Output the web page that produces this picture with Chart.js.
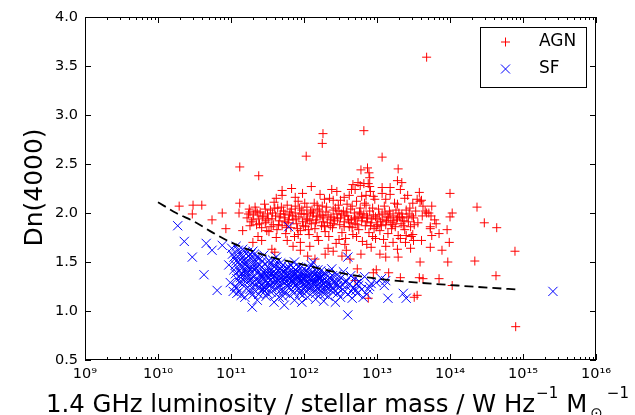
<!DOCTYPE html>
<html>
<head>
<meta charset="utf-8">
<script src="https://cdn.jsdelivr.net/npm/chart.js@4/dist/chart.umd.min.js"></script>
<style>
  html, body { margin: 0; padding: 0; background: #fff; }
  canvas { display: block; }
</style>
</head>
<body>
<canvas id="dnplot" width="635" height="415"></canvas>
<script>
// log10(L1.4GHz / M*) and Dn(4000) per galaxy
var agnPoints = [
  [13.68,3.59],[12.26,2.81],[12.25,2.71],[12.03,2.58],[11.12,2.47],[11.38,2.38],[12.82,2.84],[13.07,2.57],
  [13.29,2.45],[13.34,2.31],[12.78,2.44],[12.87,2.46],[12.89,2.41],[12.67,2.29],[12.74,2.31],[12.77,2.28],
  [12.90,2.36],[12.90,2.27],[13.07,2.26],[13.18,2.26],[14.00,2.20],[14.37,2.06],[14.47,1.90],[14.64,1.85],
  [14.89,1.61],[14.34,1.51],[14.63,1.36],[14.90,0.84],[13.85,1.33],[14.03,1.26],[13.63,1.33],[13.97,1.50],
  [13.89,1.62],[13.73,1.65],[13.99,1.70],[13.85,1.79],[13.59,1.50],[13.68,2.00],[13.75,2.07],[14.03,2.00],
  [14.00,1.96],[13.79,1.93],[13.96,1.83],[13.73,1.86],
  [10.29,2.07],[10.48,2.08],[10.60,2.08],[10.47,1.99],[10.74,1.93],[10.93,1.84],[10.88,2.00],[11.12,2.10],
  [11.11,2.00],[11.26,2.01],[11.70,2.23],[11.70,2.18],[11.30,1.70],[11.37,1.76],[11.42,1.72],[11.56,1.63],
  [11.60,1.60],[11.95,1.62],[11.95,1.70],[11.77,1.72],[11.49,1.82],[11.26,1.87],[11.16,1.82],
  [13.58,2.21],[13.61,2.13],[13.55,2.14],[13.59,2.12],[13.63,2.07],[13.66,2.02],[13.71,2.00],[13.74,1.97],
  [13.81,1.89],[13.73,1.84],[13.75,1.77],[13.61,1.72],[13.50,1.72],[13.40,1.77],[13.47,1.76],[13.46,1.64],
  [13.55,1.16],[13.51,1.14],[13.58,1.34],[13.32,1.34],[13.29,1.55],[13.12,1.55],[13.04,1.58],[13.16,1.39],
  [12.99,1.42],[12.95,1.39],[12.88,1.13],[13.28,1.63],[13.32,1.74],[13.49,1.78],[13.51,1.88],[13.49,2.10],
  [13.38,2.15],[13.28,2.09],[13.32,2.24],[13.18,2.19],[13.07,2.20],[12.95,2.17],[12.91,2.22],[12.79,2.17],
  [12.70,2.24],[12.88,2.30],[13.28,2.33],[12.82,2.30],[12.50,2.13],[12.40,2.13],[12.01,2.10],[12.18,2.08],
  [12.70,1.31],[12.73,1.43],[12.63,1.53],[12.52,1.56],[12.40,1.61],[12.29,1.58],[12.15,1.53],[12.05,1.56],
  [11.22,1.95],[11.25,2.04],[11.28,1.91],[11.31,1.98],[11.33,2.06],[11.35,1.88],[11.38,1.94],[11.40,2.01],
  [11.42,1.85],[11.44,1.97],[11.46,2.09],[11.48,1.92],[11.50,1.99],[11.52,1.81],[11.54,2.03],[11.56,1.94],
  [11.58,1.88],[11.59,2.11],[11.61,1.97],[11.63,1.83],[11.64,2.05],[11.66,1.92],[11.68,1.99],[11.70,1.87],
  [11.72,2.02],[11.73,1.95],[11.75,1.79],[11.77,2.08],[11.78,1.90],[11.80,1.98],[11.82,1.85],[11.83,2.04],
  [11.85,1.93],[11.87,1.76],[11.88,2.00],[11.90,1.89],[11.92,2.12],[11.93,1.96],[11.95,1.82],[11.97,2.03],
  [11.98,1.91],[12.00,1.99],[12.02,1.86],[12.04,2.06],[12.05,1.94],[12.07,1.78],[12.09,2.01],[12.10,1.89],
  [12.12,1.97],[12.14,2.10],[12.15,1.84],[12.17,1.93],[12.19,2.04],[12.20,1.72],[12.22,1.98],[12.24,1.87],
  [12.25,2.07],[12.27,1.95],[12.29,1.81],[12.30,2.01],[12.32,1.90],[12.34,1.76],[12.35,2.15],[12.37,1.96],
  [12.39,1.85],[12.40,2.03],[12.42,1.92],[12.44,1.69],[12.45,1.99],[12.47,2.08],[12.49,1.88],[12.50,1.95],
  [12.52,1.80],[12.54,2.02],[12.55,1.91],[12.57,1.74],[12.59,2.09],[12.60,1.97],[12.62,1.86],[12.64,2.04],
  [12.65,1.93],[12.67,1.78],[12.69,2.00],[12.70,1.89],[12.72,2.12],[12.74,1.96],[12.75,1.83],[12.77,2.05],
  [12.79,1.92],[12.80,1.71],[12.82,1.99],[12.84,1.87],[12.85,2.08],[12.87,1.95],[12.89,1.80],[12.90,2.02],
  [12.92,1.90],[12.94,1.76],[12.95,1.98],[12.97,2.14],[12.99,1.86],[13.00,1.94],[13.02,2.04],[13.04,1.82],
  [13.05,1.91],[13.07,1.99],[13.09,1.73],[13.10,2.07],[13.12,1.88],[13.14,1.96],[13.15,1.79],[13.17,2.02],
  [13.19,1.90],[13.20,1.84],[13.22,1.97],[13.24,2.10],[13.25,1.86],[13.27,1.93],[13.29,1.77],[13.30,2.00],
  [13.33,1.89],[13.35,1.95],[13.38,1.83],[13.40,2.03],[13.43,1.91],[13.46,1.86],[13.48,1.97],
  [12.08,1.66],[12.33,1.64],[12.58,1.62],[12.78,1.58],[12.92,1.65],[11.85,1.66],[12.22,2.19],[12.45,2.22],
  [12.62,2.18],[11.98,2.20],[11.83,2.25],[12.10,2.27],
  [11.36,2.00],[11.47,1.90],[11.57,2.00],[11.67,1.96],[11.74,1.91],[11.81,2.01],[11.89,1.94],[11.96,1.99],
  [12.03,1.93],[12.11,2.03],[12.18,1.96],[12.26,1.91],[12.33,1.98],[12.41,1.95],[12.48,2.02],[12.56,1.97],
  [12.63,1.90],[12.71,1.94],[12.78,1.99],[12.86,1.91],[12.93,1.94],[13.01,1.88],[13.08,1.93],[13.16,1.95],
  [13.23,1.92],[13.31,1.96],[13.37,1.92],[13.44,1.99],[12.36,1.87],[12.66,1.85],[12.96,1.84],[12.06,1.83],
  [11.76,1.85],
  [11.24,1.99],[11.30,1.93],[11.34,2.02],[11.39,1.89],[11.43,1.96],[11.47,2.04],[11.51,1.94],[11.55,1.86],
  [11.60,2.05],[11.65,1.88],[11.69,2.06],[11.74,1.99],[11.79,1.93],[11.84,1.97],[11.88,2.07],[11.91,1.84],
  [11.94,2.05],[11.99,1.87],[12.04,1.99],[12.08,1.92],[12.13,2.00],[12.16,1.90],[12.21,2.02],[12.25,1.97],
  [12.28,1.86],[12.31,2.06],[12.36,1.93],[12.40,1.89],[12.43,2.05],[12.46,1.94],[12.51,1.99],[12.55,1.86],
  [12.58,2.01],[12.61,1.93],[12.66,2.07],[12.69,1.95],[12.73,1.88],[12.76,2.01],[12.80,1.95],[12.83,2.10],
  [12.86,1.97],[12.91,1.87],[12.94,2.05],[12.98,1.96],[13.03,1.98],[13.06,1.87],[13.11,2.01],[13.13,1.92],
  [13.18,1.99],[13.21,1.88],[13.26,2.03],[13.28,1.95],[13.34,1.99],[13.36,1.87],[13.41,1.96],[13.45,2.05],
  [13.50,1.95],[13.53,2.02],[13.56,1.90],[13.62,1.97],
  [11.62,1.75],[11.92,1.78],[12.18,1.76],[12.48,1.73],[12.72,1.76],[12.98,1.74],[13.22,1.70],[13.39,1.70],
  [12.56,1.68],[12.86,1.68],[13.12,1.66],
  [11.62,2.15],[11.88,2.16],[12.28,2.14],[12.55,2.16],[12.85,2.18],[13.12,2.14],[13.42,2.18],[12.65,2.24],
  [12.38,2.24]
];

var sfPoints = [
  [10.27,1.87],[10.36,1.71],[10.47,1.55],[10.63,1.37],[10.81,1.21],[10.66,1.69],[10.74,1.62],[10.88,1.67],
  [10.97,1.47],[10.99,1.29],[11.08,1.18],[11.29,1.04],[11.79,1.86],[15.41,1.20],[12.60,1.55],[12.60,0.96],
  [13.15,1.13],[13.40,1.13],[13.36,1.18],[13.12,1.31],[12.92,1.28],[12.81,1.14],[12.71,1.21],[12.75,1.26],
  [12.88,1.22],[13.10,1.26],[13.06,1.33],[12.99,1.29],
  [11.02,1.58],[11.04,1.42],[11.05,1.25],[11.07,1.51],[11.08,1.33],[11.10,1.62],[11.11,1.20],[11.13,1.46],
  [11.14,1.37],[11.16,1.55],[11.17,1.28],[11.19,1.14],[11.20,1.49],[11.22,1.40],[11.23,1.60],[11.25,1.31],
  [11.26,1.22],[11.28,1.53],[11.29,1.44],[11.30,1.17],[11.31,1.36],[11.32,1.58],[11.33,1.26],[11.35,1.47],
  [11.36,1.11],[11.37,1.39],[11.38,1.54],[11.40,1.30],[11.41,1.21],[11.42,1.45],[11.43,1.35],[11.45,1.57],
  [11.46,1.24],[11.47,1.41],[11.48,1.15],[11.50,1.50],[11.51,1.33],[11.52,1.27],[11.53,1.43],[11.55,1.19],
  [11.56,1.38],[11.57,1.52],[11.58,1.29],[11.59,1.09],[11.60,1.36],[11.61,1.46],[11.62,1.23],[11.64,1.32],
  [11.65,1.41],[11.66,1.14],[11.67,1.27],[11.68,1.49],[11.70,1.35],[11.71,1.20],[11.72,1.40],[11.73,1.06],
  [11.75,1.30],[11.76,1.44],[11.77,1.25],[11.78,1.37],[11.80,1.16],[11.81,1.33],[11.82,1.47],[11.83,1.22],
  [11.85,1.39],[11.86,1.29],[11.87,1.11],[11.89,1.42],[11.90,1.34],[11.91,1.25],[11.92,1.45],[11.94,1.18],
  [11.95,1.31],[11.96,1.38],[11.97,1.09],[11.99,1.27],[12.00,1.43],[12.01,1.21],[12.02,1.35],[12.04,1.30],
  [12.05,1.14],[12.06,1.40],[12.08,1.24],[12.09,1.33],[12.10,1.47],[12.12,1.19],[12.13,1.28],[12.14,1.37],
  [12.16,1.12],[12.17,1.32],[12.18,1.23],[12.19,1.42],[12.21,1.29],[12.22,1.17],[12.24,1.36],[12.25,1.26],
  [12.27,1.10],[12.28,1.39],[12.30,1.21],[12.31,1.31],[12.33,1.15],[12.35,1.34],[12.36,1.25],[12.38,1.43],
  [12.40,1.19],[12.41,1.29],[12.43,1.09],[12.45,1.37],[12.47,1.23],[12.48,1.32],[12.50,1.14],[12.52,1.27],
  [12.54,1.40],[12.56,1.20],[12.58,1.31],[12.60,1.17],[12.62,1.27],[12.64,1.36],[12.66,1.13],[12.68,1.24],
  [12.70,1.33],[12.73,1.18],[12.76,1.30],[12.79,1.22],[12.83,1.35],[12.86,1.17],[12.90,1.25],
  [11.12,1.29],[11.18,1.41],[11.24,1.35],[11.27,1.27],[11.34,1.32],[11.39,1.24],[11.44,1.29],[11.49,1.37],
  [11.54,1.31],[11.58,1.40],[11.63,1.29],[11.69,1.31],[11.74,1.34],[11.79,1.28],[11.84,1.32],[11.88,1.26],
  [11.93,1.29],[11.98,1.33],[12.03,1.26],[12.07,1.29],[12.11,1.34],[12.15,1.27],[12.20,1.35],[12.26,1.31],
  [12.32,1.27],[12.37,1.33],[12.44,1.28],[12.51,1.34],[11.21,1.23],[11.46,1.20],[11.71,1.15],[11.96,1.21],
  [12.23,1.21],[11.33,1.52],[11.62,1.55],[11.87,1.50],[12.12,1.50],[11.16,1.63],[11.06,1.38],[11.03,1.20],
  [11.06,1.47],[11.09,1.56],[11.11,1.41],[11.13,1.34],[11.15,1.50],[11.17,1.45],[11.19,1.60],[11.21,1.37],
  [11.23,1.52],[11.25,1.44],[11.27,1.58],[11.29,1.33],[11.31,1.48],[11.33,1.42],[11.35,1.55],[11.37,1.30],
  [11.39,1.47],[11.41,1.38],[11.43,1.51],[11.45,1.33],[11.47,1.48],[11.49,1.28],[11.51,1.44],[11.53,1.37],
  [11.55,1.49],[11.57,1.34],[11.59,1.45],[11.61,1.39],[11.63,1.50],[11.65,1.31],[11.67,1.43],[11.69,1.38],
  [11.71,1.47],[11.73,1.29],[11.75,1.41],[11.77,1.35],[11.79,1.45],[11.81,1.38],[11.83,1.30],[11.85,1.44],
  [11.87,1.36],[11.89,1.33],[11.91,1.40],[11.93,1.35],[11.95,1.44],[11.97,1.30],[11.99,1.38],[12.01,1.32],
  [12.03,1.41],[12.05,1.36],[12.07,1.44],[12.09,1.27],[12.11,1.39],[12.13,1.33],[12.15,1.42],[12.17,1.25],
  [12.19,1.37],[12.21,1.33],[12.23,1.41],[12.25,1.35],[12.27,1.28],[12.29,1.38],[12.31,1.24],[12.34,1.40],
  [12.37,1.21],[12.39,1.36],[12.42,1.31],[12.46,1.26],
  [11.08,1.24],[11.14,1.16],[11.20,1.30],[11.26,1.19],[11.32,1.21],[11.38,1.17],[11.44,1.22],[11.50,1.18],
  [11.56,1.24],[11.62,1.17],[11.68,1.21],[11.74,1.19],[11.80,1.24],[11.86,1.18],[11.92,1.22],[11.98,1.16],
  [12.04,1.20],[12.10,1.24],[12.16,1.18],[12.22,1.25],[12.28,1.17],[12.34,1.28],[12.40,1.23],[12.46,1.18],
  [12.53,1.22],[12.57,1.29],[12.65,1.20],[12.72,1.28],
  [11.15,1.39],[11.22,1.46],[11.28,1.40],[11.34,1.44],[11.40,1.35],[11.46,1.38],[11.52,1.40],[11.58,1.35],
  [11.64,1.37],[11.70,1.42],[11.76,1.38],[11.82,1.36],[11.88,1.39],[11.94,1.33],[12.00,1.37],[12.06,1.34],
  [12.12,1.31],[12.18,1.35],[12.24,1.30],[12.30,1.34],[11.19,1.33],[11.30,1.29],[11.42,1.26],[11.54,1.27],
  [11.66,1.25],[11.78,1.31],[11.90,1.28],[12.02,1.24],[12.14,1.23],[12.26,1.22],
  [11.01,1.64],[11.04,1.55],[11.07,1.66],[11.10,1.50],[11.13,1.58],[11.18,1.52],[11.24,1.56],[11.30,1.61]
];

// dividing curve between the two classes
var dividerPoints = [
  [10.00,2.11],[10.25,2.00],[10.50,1.91],[10.75,1.80],[11.00,1.70],[11.30,1.61],[11.60,1.54],
  [11.95,1.48],[12.35,1.41],[12.90,1.34],[13.40,1.30],[14.10,1.26],[14.90,1.22]
];

var xExponents = [9, 10, 11, 12, 13, 14, 15, 16];
var yTicks = [0.5, 1.0, 1.5, 2.0, 2.5, 3.0, 3.5, 4.0];

var FONT = "'DejaVu Sans', sans-serif";
var SUP = {'0':'\u2070','1':'\u00b9','2':'\u00b2','3':'\u00b3','4':'\u2074','5':'\u2075','6':'\u2076','7':'\u2077','8':'\u2078','9':'\u2079'};

function toXY(p) {
  return { x: Math.pow(10, p[0]), y: p[1] };
}
function supText(n) {
  return String(n).split('').map(function(c){ return SUP[c]; }).join('');
}

// matplotlib-ish frame: box, inward ticks on all sides, axis titles, legend
var framePlugin = {
  id: 'frame',
  afterDraw: function(chart) {
    var ctx = chart.ctx;
    var a = chart.chartArea;
    var xs = chart.scales.x, ys = chart.scales.y;
    ctx.save();
    ctx.strokeStyle = '#000';
    ctx.lineWidth = 1;
    ctx.strokeRect(Math.round(a.left) + 0.5, Math.round(a.top) + 0.5,
                   Math.round(a.right - a.left) - 1, Math.round(a.bottom - a.top) - 1);

    ctx.beginPath();
    xExponents.forEach(function(e) {
      var px = Math.round(xs.getPixelForValue(Math.pow(10, e))) + 0.5;
      ctx.moveTo(px, a.bottom); ctx.lineTo(px, a.bottom - 6);
      ctx.moveTo(px, a.top); ctx.lineTo(px, a.top + 6);
      if (e < 16) {
        for (var k = 2; k <= 9; k++) {
          var mx = Math.round(xs.getPixelForValue(k * Math.pow(10, e))) + 0.5;
          ctx.moveTo(mx, a.bottom); ctx.lineTo(mx, a.bottom - 3);
          ctx.moveTo(mx, a.top); ctx.lineTo(mx, a.top + 3);
        }
      }
    });
    yTicks.forEach(function(v) {
      var py = Math.round(ys.getPixelForValue(v)) + 0.5;
      ctx.moveTo(a.left, py); ctx.lineTo(a.left + 6, py);
      ctx.moveTo(a.right, py); ctx.lineTo(a.right - 6, py);
    });
    ctx.stroke();

    // y title
    ctx.fillStyle = '#000';
    ctx.save();
    ctx.translate(42, (a.top + a.bottom) / 2 - 1);
    ctx.rotate(-Math.PI / 2);
    ctx.font = '25px ' + FONT;
    ctx.textAlign = 'center';
    ctx.textBaseline = 'alphabetic';
    ctx.fillText('Dn(4000)', 0, 0);
    ctx.restore();

    // x title with super/subscripts
    var base = 412;
    var big = '24.4px ' + FONT, small = '15px ' + FONT, tiny = '15px ' + FONT;
    ctx.textAlign = 'left';
    ctx.textBaseline = 'alphabetic';
    var x = 46;
    ctx.font = big;
    var t1 = '1.4 GHz luminosity / stellar mass / W Hz';
    ctx.fillText(t1, x, base); x += ctx.measureText(t1).width + 1;
    ctx.font = small;
    ctx.fillText('\u22121', x, base - 14); x += ctx.measureText('\u22121').width + 8;
    ctx.font = big;
    ctx.fillText('M', x, base); x += ctx.measureText('M').width + 3;
    ctx.font = tiny;
    ctx.fillText('\u2299', x, base + 6); x += ctx.measureText('\u2299').width + 4;
    ctx.font = small;
    ctx.fillText('\u22121', x, base - 14);

    // legend
    var lx = 480.5, ly = 27.5, lw = 106, lh = 60;
    ctx.fillStyle = '#fff';
    ctx.fillRect(lx, ly, lw, lh);
    ctx.strokeStyle = '#000';
    ctx.lineWidth = 1;
    ctx.strokeRect(lx, ly, lw, lh);
    ctx.strokeStyle = '#ff0000';
    ctx.beginPath();
    ctx.moveTo(501, 42); ctx.lineTo(510, 42);
    ctx.moveTo(505.5, 37.5); ctx.lineTo(505.5, 46.5);
    ctx.stroke();
    ctx.strokeStyle = '#0000ff';
    ctx.beginPath();
    ctx.moveTo(501, 64.5); ctx.lineTo(510, 73.5);
    ctx.moveTo(510, 64.5); ctx.lineTo(501, 73.5);
    ctx.stroke();
    ctx.fillStyle = '#000';
    ctx.font = '17px ' + FONT;
    ctx.textBaseline = 'middle';
    ctx.fillText('AGN', 539, 42);
    ctx.fillText('SF', 539, 69);
    ctx.restore();
  }
};

new Chart(document.getElementById('dnplot'), {
  type: 'scatter',
  data: {
    datasets: [
      {
        type: 'line',
        label: 'divider',
        data: dividerPoints.map(toXY),
        borderColor: '#000',
        borderWidth: 1.8,
        borderDash: [9, 5],
        pointRadius: 0,
        fill: false,
        cubicInterpolationMode: 'monotone',
        order: 0
      },
      {
        label: 'SF',
        data: sfPoints.map(toXY),
        pointStyle: 'crossRot',
        pointRadius: 6.5,
        borderColor: '#0000ff',
        backgroundColor: 'transparent',
        borderWidth: 1,
        order: 1
      },
      {
        label: 'AGN',
        data: agnPoints.map(toXY),
        pointStyle: 'cross',
        pointRadius: 4.5,
        borderColor: '#ff0000',
        backgroundColor: 'transparent',
        borderWidth: 1,
        order: 2
      }
    ]
  },
  options: {
    responsive: false,
    animation: false,
    events: [],
    layout: { padding: { top: 17, right: 39, left: 0, bottom: 0 } },
    plugins: { legend: { display: false }, tooltip: { enabled: false } },
    scales: {
      x: {
        type: 'logarithmic',
        min: 1e9,
        max: 1e16,
        grid: { display: false, drawTicks: false },
        border: { display: false },
        afterBuildTicks: function(scale) {
          scale.ticks = xExponents.map(function(e){ return { value: Math.pow(10, e) }; });
        },
        afterFit: function(scale) { scale.height = 55; },
        ticks: {
          autoSkip: false,
          maxRotation: 0,
          padding: 6,
          color: '#000',
          font: { family: FONT, size: 14.5 },
          callback: function(v) { return '10' + supText(Math.round(Math.log10(v))); }
        }
      },
      y: {
        min: 0.5,
        max: 4.0,
        grid: { display: false, drawTicks: false },
        border: { display: false },
        afterBuildTicks: function(scale) {
          scale.ticks = yTicks.map(function(v){ return { value: v }; });
        },
        afterFit: function(scale) { scale.width = 85; },
        ticks: {
          padding: 7,
          color: '#000',
          font: { family: FONT, size: 14.5 },
          callback: function(v) { return v.toFixed(1); }
        }
      }
    }
  },
  plugins: [framePlugin]
});
</script>
</body>
</html>
